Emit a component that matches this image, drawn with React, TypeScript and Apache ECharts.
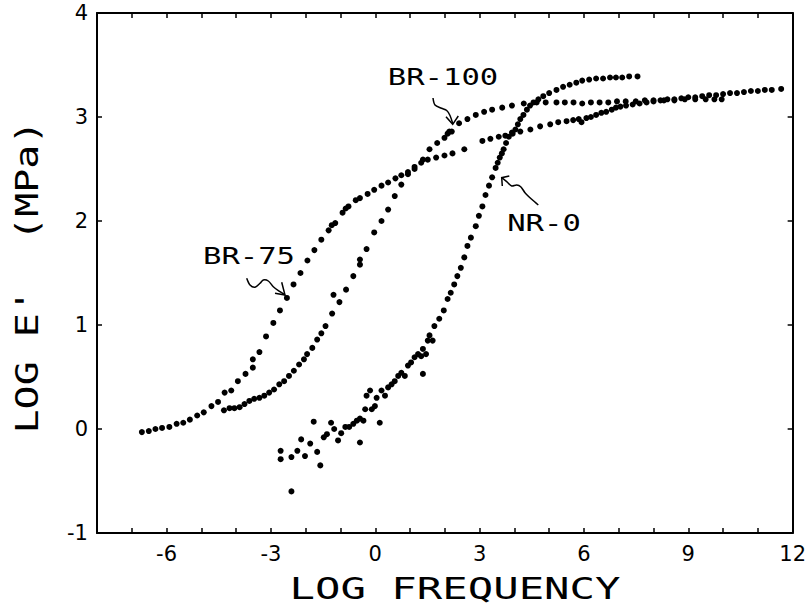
import React, { useEffect, useRef } from "react";
import * as echarts from "echarts";

// ---- data ----
const xLabelsShown = [-6, -3, 0, 3, 6, 9, 12];

const br75: [number, number][] = [
  [-6.71, -0.03], [-6.51, -0.02], [-6.32, 0.0], [-6.13, 0.01], [-5.92, 0.02], [-5.71, 0.05],
  [-5.52, 0.06], [-5.33, 0.09], [-5.12, 0.13], [-4.93, 0.16], [-4.71, 0.22], [-4.52, 0.26],
  [-4.33, 0.35], [-4.14, 0.37], [-3.95, 0.46], [-3.73, 0.53], [-3.52, 0.59], [-3.52, 0.67],
  [-3.33, 0.74], [-3.14, 0.89], [-2.93, 1.02], [-2.74, 1.14], [-2.54, 1.26], [-2.35, 1.39],
  [-2.15, 1.5], [-1.95, 1.62], [-1.75, 1.72], [-1.55, 1.82], [-1.34, 1.91], [-1.25, 1.96],
  [-1.15, 1.98], [-0.94, 2.08], [-0.85, 2.12], [-0.77, 2.14], [-0.56, 2.2], [-0.44, 2.22],
  [-0.22, 2.26], [-0.03, 2.3], [0.18, 2.34], [0.37, 2.37], [0.58, 2.41], [0.75, 2.44],
  [0.94, 2.47], [1.13, 2.52], [1.32, 2.56], [1.51, 2.59], [1.75, 2.61], [1.99, 2.63],
  [2.22, 2.65], [2.56, 2.69], [3.08, 2.77], [3.31, 2.79], [3.55, 2.81], [3.74, 2.82],
  [3.95, 2.84], [4.17, 2.86], [4.46, 2.88], [4.74, 2.91], [5.03, 2.93], [5.26, 2.95],
  [5.5, 2.96], [5.69, 2.97], [5.85, 2.98], [5.93, 2.95], [6.07, 2.99], [6.2, 3.0],
  [6.35, 3.02], [6.5, 3.04], [6.64, 3.05], [6.8, 3.07], [6.92, 3.09], [7.05, 3.1],
  [7.21, 3.11], [7.4, 3.12], [7.6, 3.13], [7.8, 3.14], [8.0, 3.15], [8.2, 3.16],
  [8.4, 3.17], [8.6, 3.17], [8.8, 3.18], [9.0, 3.19], [9.2, 3.19], [9.4, 3.2],
  [9.6, 3.21], [9.8, 3.21], [10.0, 3.22], [10.2, 3.23], [10.4, 3.23], [10.6, 3.24],
  [10.8, 3.25], [11.0, 3.25], [11.2, 3.26], [11.4, 3.26], [11.67, 3.27],
];

const br100: [number, number][] = [
  [-4.35, 0.18], [-4.19, 0.2], [-4.05, 0.2], [-3.9, 0.21], [-3.76, 0.24], [-3.62, 0.27],
  [-3.48, 0.29], [-3.33, 0.3], [-3.19, 0.32], [-3.05, 0.35], [-2.91, 0.38], [-2.76, 0.43],
  [-2.62, 0.46], [-2.48, 0.51], [-2.34, 0.56], [-2.19, 0.62], [-2.05, 0.67], [-1.96, 0.72],
  [-1.81, 0.78], [-1.67, 0.86], [-1.55, 0.92], [-1.43, 0.99], [-1.24, 1.11], [-1.2, 1.29],
  [-1.03, 1.22], [-0.84, 1.34], [-0.63, 1.47], [-0.44, 1.58], [-0.44, 1.63], [-0.25, 1.73],
  [-0.03, 1.89], [0.18, 2.0], [0.37, 2.11], [0.56, 2.24], [0.75, 2.35], [0.94, 2.45],
  [1.13, 2.5], [1.37, 2.59], [1.56, 2.69], [1.78, 2.75], [1.99, 2.8], [2.08, 2.84],
  [2.13, 2.86], [2.2, 2.86], [2.41, 2.94], [2.65, 2.98], [2.89, 3.02], [3.13, 3.05],
  [3.36, 3.07], [3.65, 3.09], [3.93, 3.11], [4.27, 3.13], [4.64, 3.14], [4.9, 3.14],
  [5.21, 3.14], [5.45, 3.14], [5.7, 3.14], [5.95, 3.13], [6.2, 3.14], [6.45, 3.14],
  [6.7, 3.14], [6.95, 3.15], [7.2, 3.15], [7.49, 3.15], [7.75, 3.16], [8.0, 3.16],
  [8.3, 3.16], [8.6, 3.16], [8.9, 3.17], [9.2, 3.17], [9.5, 3.17], [9.75, 3.17], [9.96, 3.17],
];

const nr0: [number, number][] = [
  [-2.72, -0.21], [-2.72, -0.29], [-2.41, -0.27], [-2.41, -0.6], [-2.24, -0.21], [-2.13, -0.1],
  [-2.02, -0.26], [-1.87, -0.14], [-1.77, 0.07], [-1.67, -0.22], [-1.58, -0.35], [-1.48, -0.08],
  [-1.39, -0.05], [-1.27, 0.06], [-1.18, 0.0], [-1.07, -0.11], [-0.98, -0.04], [-0.86, 0.02],
  [-0.75, 0.02], [-0.63, 0.05], [-0.53, 0.08], [-0.44, 0.1], [-0.44, -0.13], [-0.34, 0.08],
  [-0.29, 0.19], [-0.25, 0.32], [-0.15, 0.37], [-0.1, 0.19], [-0.01, 0.22], [0.04, 0.3],
  [0.13, 0.06], [0.18, 0.37], [0.28, 0.32], [0.37, 0.4], [0.47, 0.43], [0.56, 0.46],
  [0.66, 0.51], [0.75, 0.54], [0.85, 0.51], [0.94, 0.61], [1.03, 0.64], [1.13, 0.69],
  [1.23, 0.72], [1.32, 0.7], [1.37, 0.53], [1.37, 0.77], [1.46, 0.72], [1.51, 0.85],
  [1.56, 0.9], [1.65, 0.85], [1.7, 0.99], [1.84, 1.06], [1.97, 1.14], [2.08, 1.25],
  [2.17, 1.31], [2.27, 1.39], [2.36, 1.47], [2.46, 1.55], [2.56, 1.65], [2.65, 1.76],
  [2.75, 1.84], [2.89, 1.95], [2.98, 2.05], [3.08, 2.14], [3.17, 2.25], [3.27, 2.34],
  [3.36, 2.42], [3.46, 2.51], [3.52, 2.56], [3.58, 2.61], [3.64, 2.65], [3.69, 2.69],
  [3.76, 2.75], [3.84, 2.81], [3.93, 2.85], [4.03, 2.88], [4.1, 2.93], [4.17, 2.98],
  [4.26, 3.02], [4.36, 3.07], [4.45, 3.11], [4.55, 3.14], [4.69, 3.17], [4.83, 3.2],
  [5.0, 3.23], [5.21, 3.26], [5.4, 3.29], [5.59, 3.31], [5.78, 3.33], [5.95, 3.35],
  [6.15, 3.36], [6.35, 3.37], [6.55, 3.37], [6.75, 3.38], [6.92, 3.38], [7.1, 3.38],
  [7.3, 3.39], [7.54, 3.39],
];

const seriesNames = ["BR-75", "BR-100", "NR-0"];

// ---- annotation layout (pixels) ----
const MONO = "'DejaVu Sans Mono', 'Liberation Mono', monospace";

const annotations = [
  { text: "BR-100", x: 443, y: 77 },
  { text: "BR-75", x: 249, y: 256 },
  { text: "NR-0", x: 544, y: 223 },
];

const arrowTails: number[][][] = [
  [[433, 98], [435, 105], [441.5, 108.3], [446.7, 110.5], [450, 115.5], [452.7, 123.5]],
  [[246.7, 278.3], [250, 285], [255, 287.3], [260, 283.3], [263.3, 280], [268.3, 281], [273.3, 286.7], [280, 291.7], [285, 295]],
  [[501.7, 177.7], [506.7, 181.7], [511.7, 186], [516.7, 185], [520.7, 186.7], [525, 192.7], [531.7, 199.3], [538.3, 205]],
];
const arrowHeads: number[][][] = [
  [[446, 116.7], [452.7, 124.3], [458.3, 116]],
  [[281.7, 282.3], [285, 295], [275, 293.3]],
  [[502.3, 186], [501.7, 177.7], [509.3, 176]],
];

export default function App() {
  const ref = useRef<HTMLDivElement>(null);

  useEffect(() => {
    if (!ref.current) return;
    const chart = echarts.init(ref.current, undefined, { renderer: "svg" });

    const axisLine = { show: true, onZero: false, lineStyle: { color: "#000", width: 2 } };
    const tick = { show: true, inside: true, length: 5, lineStyle: { color: "#000", width: 1.5 } };

    const graphics: any[] = [
      {
        type: "text",
        x: 455,
        y: 589,
        scaleX: 1.41,
        style: { text: "LOG FREQUENCY", fontSize: 30, fontFamily: MONO, fill: "#000", align: "center", verticalAlign: "middle" },
      },
      {
        type: "text",
        x: 27,
        y: 277,
        rotation: Math.PI / 2,
        scaleX: 1.25,
        style: { text: "LOG E'  (MPa)", fontSize: 32, fontFamily: MONO, fill: "#000", align: "center", verticalAlign: "middle" },
      },
      ...annotations.map((a) => ({
        type: "text",
        x: a.x,
        y: a.y,
        scaleX: 1.33,
        style: { text: a.text, fontSize: 23, fontFamily: MONO, fill: "#000", align: "center", verticalAlign: "middle" },
      })),
      ...arrowTails.map((pts) => ({
        type: "polyline",
        shape: { points: pts, smooth: 0.3 },
        style: { stroke: "#000", lineWidth: 1.5, fill: "none" },
      })),
      ...arrowHeads.map((pts) => ({
        type: "polyline",
        shape: { points: pts },
        style: { stroke: "#000", lineWidth: 1.5, fill: "none" },
      })),
    ];

    const mkSeries = (name: string, data: [number, number][]) => ({
      name,
      type: "scatter",
      data,
      symbol: "circle",
      symbolSize: 6,
      itemStyle: { color: "#000", opacity: 1 },
      silent: true,
    });

    chart.setOption({
      animation: false,
      backgroundColor: "#fff",
      grid: { left: 97, right: 11, top: 13, bottom: 79 },
      xAxis: [
        {
          type: "value",
          min: -8,
          max: 12,
          interval: 1,
          position: "bottom",
          axisLine,
          axisTick: tick,
          splitLine: { show: false },
          axisLabel: {
            color: "#000",
            fontSize: 21,
            fontFamily: "'DejaVu Sans', sans-serif",
            margin: 10,
            formatter: (v: number) => (xLabelsShown.indexOf(v) >= 0 ? String(v) : ""),
          },
        },
        {
          type: "value",
          min: -8,
          max: 12,
          interval: 1,
          position: "top",
          axisLine,
          axisTick: tick,
          splitLine: { show: false },
          axisLabel: { show: false },
        },
      ],
      yAxis: [
        {
          type: "value",
          min: -1,
          max: 4,
          interval: 1,
          position: "left",
          axisLine,
          axisTick: tick,
          splitLine: { show: false },
          axisLabel: { color: "#000", fontSize: 21, fontFamily: "'DejaVu Sans', sans-serif", margin: 9 },
        },
        {
          type: "value",
          min: -1,
          max: 4,
          interval: 1,
          position: "right",
          axisLine,
          axisTick: tick,
          splitLine: { show: false },
          axisLabel: { show: false },
        },
      ],
      series: [mkSeries(seriesNames[0], br75), mkSeries(seriesNames[1], br100), mkSeries(seriesNames[2], nr0)],
      graphic: graphics,
    });

    return () => chart.dispose();
  }, []);

  return <div ref={ref} style={{ position: "fixed", left: 0, top: 0, width: 809, height: 612 }} />;
}
